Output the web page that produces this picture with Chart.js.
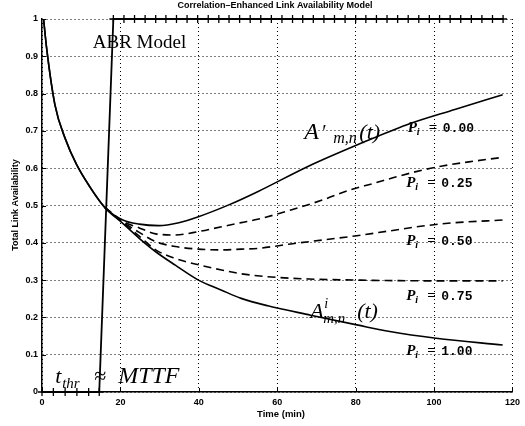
<!DOCTYPE html>
<html lang="en">
<head>
<meta charset="UTF-8">
<title>Correlation-Enhanced Link Availability Model</title>
<script src="https://cdn.jsdelivr.net/npm/chart.js"></script>
<style>
    body { margin: 0; background: #fff; }
    #chart { display: block; }
</style>
</head>
<body>
<canvas id="chart" width="525" height="426"></canvas>
<script>
// axis ticks
const xTicks = [0, 20, 40, 60, 80, 100, 120];
const yTicks = [0, 0.1, 0.2, 0.3, 0.4, 0.5, 0.6, 0.7, 0.8, 0.9, 1];

// A'm,n(t), Pi = 0.00 (solid, upper)
const tPi000 = [0.4, 1.2, 3.3, 5.9, 8.8, 12.2, 16.0, 20.6, 24.8, 29.8, 34.9, 39.9, 47.5, 55.0, 67.7, 80.3, 92.9, 105.5, 117.5];
const vPi000 = [1.0, 0.92, 0.77, 0.68, 0.61, 0.55, 0.495, 0.461, 0.450, 0.446, 0.454, 0.470, 0.501, 0.537, 0.604, 0.662, 0.716, 0.758, 0.797];

// Pi = 0.25 (dashed)
const tPi025 = [16.0, 20.6, 24.8, 29.0, 34.0, 39.9, 45.8, 50.8, 55.0, 63.5, 71.9, 78.6, 84.5, 90.4, 97.1, 102.1, 108.9, 117.5];
const vPi025 = [0.495, 0.458, 0.440, 0.424, 0.421, 0.430, 0.443, 0.454, 0.463, 0.488, 0.516, 0.542, 0.559, 0.577, 0.595, 0.606, 0.617, 0.629];

// Pi = 0.50 (dashed)
const tPi050 = [16.0, 20.6, 24.8, 29.0, 34.0, 39.9, 45.8, 50.8, 55.0, 63.5, 71.9, 80.3, 88.7, 97.1, 105.5, 117.5];
const vPi050 = [0.495, 0.456, 0.428, 0.403, 0.390, 0.383, 0.381, 0.383, 0.385, 0.397, 0.408, 0.419, 0.432, 0.445, 0.454, 0.461];

// Pi = 0.75 (dashed)
const tPi075 = [16.0, 20.6, 24.8, 29.0, 34.0, 39.9, 45.8, 50.8, 57.6, 68.0, 80.3, 100.0, 117.5];
const vPi075 = [0.495, 0.454, 0.418, 0.381, 0.358, 0.341, 0.327, 0.317, 0.309, 0.303, 0.300, 0.298, 0.298];

// A^i m,n(t), Pi = 1.00 (solid, lower)
const tPi100 = [0.4, 1.2, 3.3, 5.9, 8.8, 12.2, 16.0, 20.6, 24.8, 29.0, 34.0, 39.9, 45.8, 50.8, 57.6, 68.5, 80.3, 88.7, 100.5, 117.5];
const vPi100 = [1.0, 0.92, 0.77, 0.68, 0.61, 0.55, 0.495, 0.452, 0.412, 0.376, 0.340, 0.300, 0.273, 0.251, 0.231, 0.206, 0.180, 0.162, 0.144, 0.126];

// ABR model (step with + markers)
const tAbr = [0, 2.9, 5.9, 8.9, 11.9, 14.6, 18.2, 20.9, 23.6, 26.3, 29.0, 31.6, 34.3, 37.0, 39.7, 42.4, 45.1, 47.7, 50.4,
              53.1, 55.8, 58.5, 61.2, 63.9, 66.5, 69.2, 71.9, 74.6, 77.3, 80.0, 82.6, 85.3, 88.0, 90.7, 93.4, 96.1,
              98.8, 101.4, 104.1, 106.8, 109.5, 112.2, 114.9, 117.6];
const vAbr = [0, 0, 0, 0, 0, 0, 1, 1, 1, 1, 1, 1, 1, 1, 1, 1, 1, 1, 1,
              1, 1, 1, 1, 1, 1, 1, 1, 1, 1, 1, 1, 1, 1, 1, 1, 1,
              1, 1, 1, 1, 1, 1, 1, 1];

function pts(ts, vs) {
    return ts.map(function(t, i) { return {x: t, y: vs[i]}; });
}

const serif = '"Liberation Serif", "DejaVu Serif", serif';
const sans = '"Liberation Sans", Arial, sans-serif';
const mono = '"Liberation Mono", "DejaVu Sans Mono", monospace';

function piLabel(val) {
    return [
        {s: 'P', f: 'italic bold 15px ' + serif, dx: 0},
        {s: 'i', f: 'italic bold 10px ' + serif, dx: 9, dy: 3},
        {s: '=', f: 'bold 15px ' + serif, dx: 21},
        {s: val, f: 'bold 13px ' + mono, dx: 35}
    ];
}

// text annotations, anchored in data coordinates (left, baseline)
const notes = [
    {x: 12.95, y: 0.922, parts: [{s: 'ABR Model', f: '19px ' + serif, dx: 0}]},
    {x: 66.9, y: 0.678, parts: [
        {s: 'A', f: 'italic 24px ' + serif, dx: 0},
        {s: '\u2032', f: '20px ' + serif, dx: 18},
        {s: 'm,n', f: 'italic 16px ' + serif, dx: 29, dy: 4},
        {s: '(t)', f: 'italic 22px ' + serif, dx: 55}
    ]},
    {x: 68.4, y: 0.198, parts: [
        {s: 'A', f: 'italic 22px ' + serif, dx: 0},
        {s: 'i', f: 'italic 14px ' + serif, dx: 14, dy: -10},
        {s: 'm,n', f: 'italic 15px ' + serif, dx: 13, dy: 5},
        {s: '(t)', f: 'italic 22px ' + serif, dx: 47}
    ]},
    {x: 3.35, y: 0.024, parts: [
        {s: 't', f: 'italic 22px ' + serif, dx: 0},
        {s: 'thr', f: 'italic 15px ' + serif, dx: 7, dy: 5},
        {s: '\u2248', f: '22px ' + serif, dx: 39},
        {s: 'MTTF', f: 'italic 24px ' + serif, dx: 63}
    ]},
    {x: 93.3, y: 0.697, parts: piLabel('0.00')},
    {x: 92.9, y: 0.550, parts: piLabel('0.25')},
    {x: 92.9, y: 0.394, parts: piLabel('0.50')},
    {x: 92.9, y: 0.247, parts: piLabel('0.75')},
    {x: 92.9, y: 0.099, parts: piLabel('1.00')}
];

const decor = {
    id: 'decor',
    afterDraw: function(chart) {
        const ctx = chart.ctx;
        const xs = chart.scales.x, ys = chart.scales.y;
        const area = chart.chartArea;
        ctx.save();
        ctx.fillStyle = '#000';
        ctx.strokeStyle = '#000';

        // small inward tick marks
        ctx.lineWidth = 1;
        ctx.beginPath();
        xTicks.forEach(function(t) {
            const px = Math.round(xs.getPixelForValue(t)) + 0.5;
            ctx.moveTo(px, area.bottom);
            ctx.lineTo(px, area.bottom - 4);
        });
        yTicks.forEach(function(v) {
            const py = Math.round(ys.getPixelForValue(v)) + 0.5;
            ctx.moveTo(area.left, py);
            ctx.lineTo(area.left + 4, py);
        });
        ctx.stroke();

        // title
        ctx.textAlign = 'center';
        ctx.textBaseline = 'middle';
        ctx.font = 'bold 9px ' + sans;
        ctx.fillText('Correlation\u2013Enhanced Link Availability Model', 275, 6);

        // x axis title
        ctx.font = 'bold 9.5px ' + sans;
        ctx.fillText('Time (min)', 281, 414);

        // y axis title
        ctx.save();
        ctx.translate(16, 205);
        ctx.rotate(-Math.PI / 2);
        ctx.font = 'bold 9px ' + sans;
        ctx.fillText('Total Link Availability', 0, 0);
        ctx.restore();

        // annotations
        ctx.textAlign = 'left';
        ctx.textBaseline = 'alphabetic';
        notes.forEach(function(n) {
            const x0 = xs.getPixelForValue(n.x);
            const y0 = ys.getPixelForValue(n.y);
            n.parts.forEach(function(p) {
                ctx.font = p.f;
                ctx.fillText(p.s, x0 + p.dx, y0 + (p.dy || 0));
            });
        });
        ctx.restore();
    }
};

const lineBase = {
    borderColor: '#000',
    backgroundColor: '#000',
    borderWidth: 1.6,
    pointRadius: 0,
    fill: false,
    cubicInterpolationMode: 'monotone'
};

new Chart(document.getElementById('chart'), {
    type: 'line',
    data: {
        datasets: [
            Object.assign({}, lineBase, {label: 'Pi = 0.00', data: pts(tPi000, vPi000)}),
            Object.assign({}, lineBase, {label: 'Pi = 0.25', data: pts(tPi025, vPi025), borderDash: [8, 5]}),
            Object.assign({}, lineBase, {label: 'Pi = 0.50', data: pts(tPi050, vPi050), borderDash: [8, 5]}),
            Object.assign({}, lineBase, {label: 'Pi = 0.75', data: pts(tPi075, vPi075), borderDash: [8, 5]}),
            Object.assign({}, lineBase, {label: 'Pi = 1.00', data: pts(tPi100, vPi100)}),
            {
                label: 'ABR Model',
                data: pts(tAbr, vAbr),
                borderColor: '#000',
                backgroundColor: '#000',
                borderWidth: 1.8,
                pointStyle: 'cross',
                pointRadius: 4,
                pointBorderWidth: 1.3,
                pointBorderColor: '#000',
                tension: 0,
                clip: false,
                fill: false
            }
        ]
    },
    options: {
        responsive: false,
        animation: false,
        events: [],
        layout: {padding: {top: 19, right: 8, left: 0, bottom: 0}},
        plugins: {
            legend: {display: false},
            tooltip: {enabled: false},
            title: {display: false}
        },
        scales: {
            x: {
                type: 'linear',
                min: 0,
                max: 120,
                afterFit: function(s) { s.height = 34; },
                afterBuildTicks: function(s) { s.ticks = xTicks.map(function(v) { return {value: v}; }); },
                ticks: {
                    color: '#000',
                    padding: 5,
                    maxRotation: 0,
                    font: {family: sans, size: 9, weight: 'bold'}
                },
                grid: {color: '#000', lineWidth: 1, drawTicks: false},
                border: {display: true, color: '#000', width: 1.5, dash: [1, 3]}
            },
            y: {
                type: 'linear',
                min: 0,
                max: 1,
                afterFit: function(s) { s.width = 42; },
                afterBuildTicks: function(s) { s.ticks = yTicks.map(function(v) { return {value: v}; }); },
                ticks: {
                    color: '#000',
                    padding: 4,
                    font: {family: sans, size: 9, weight: 'bold'},
                    callback: function(v) { return String(Math.round(v * 10) / 10); }
                },
                grid: {color: '#000', lineWidth: 1, drawTicks: false},
                border: {display: true, color: '#000', width: 1.5, dash: [1, 3]}
            }
        }
    },
    plugins: [decor]
});
</script>
</body>
</html>
